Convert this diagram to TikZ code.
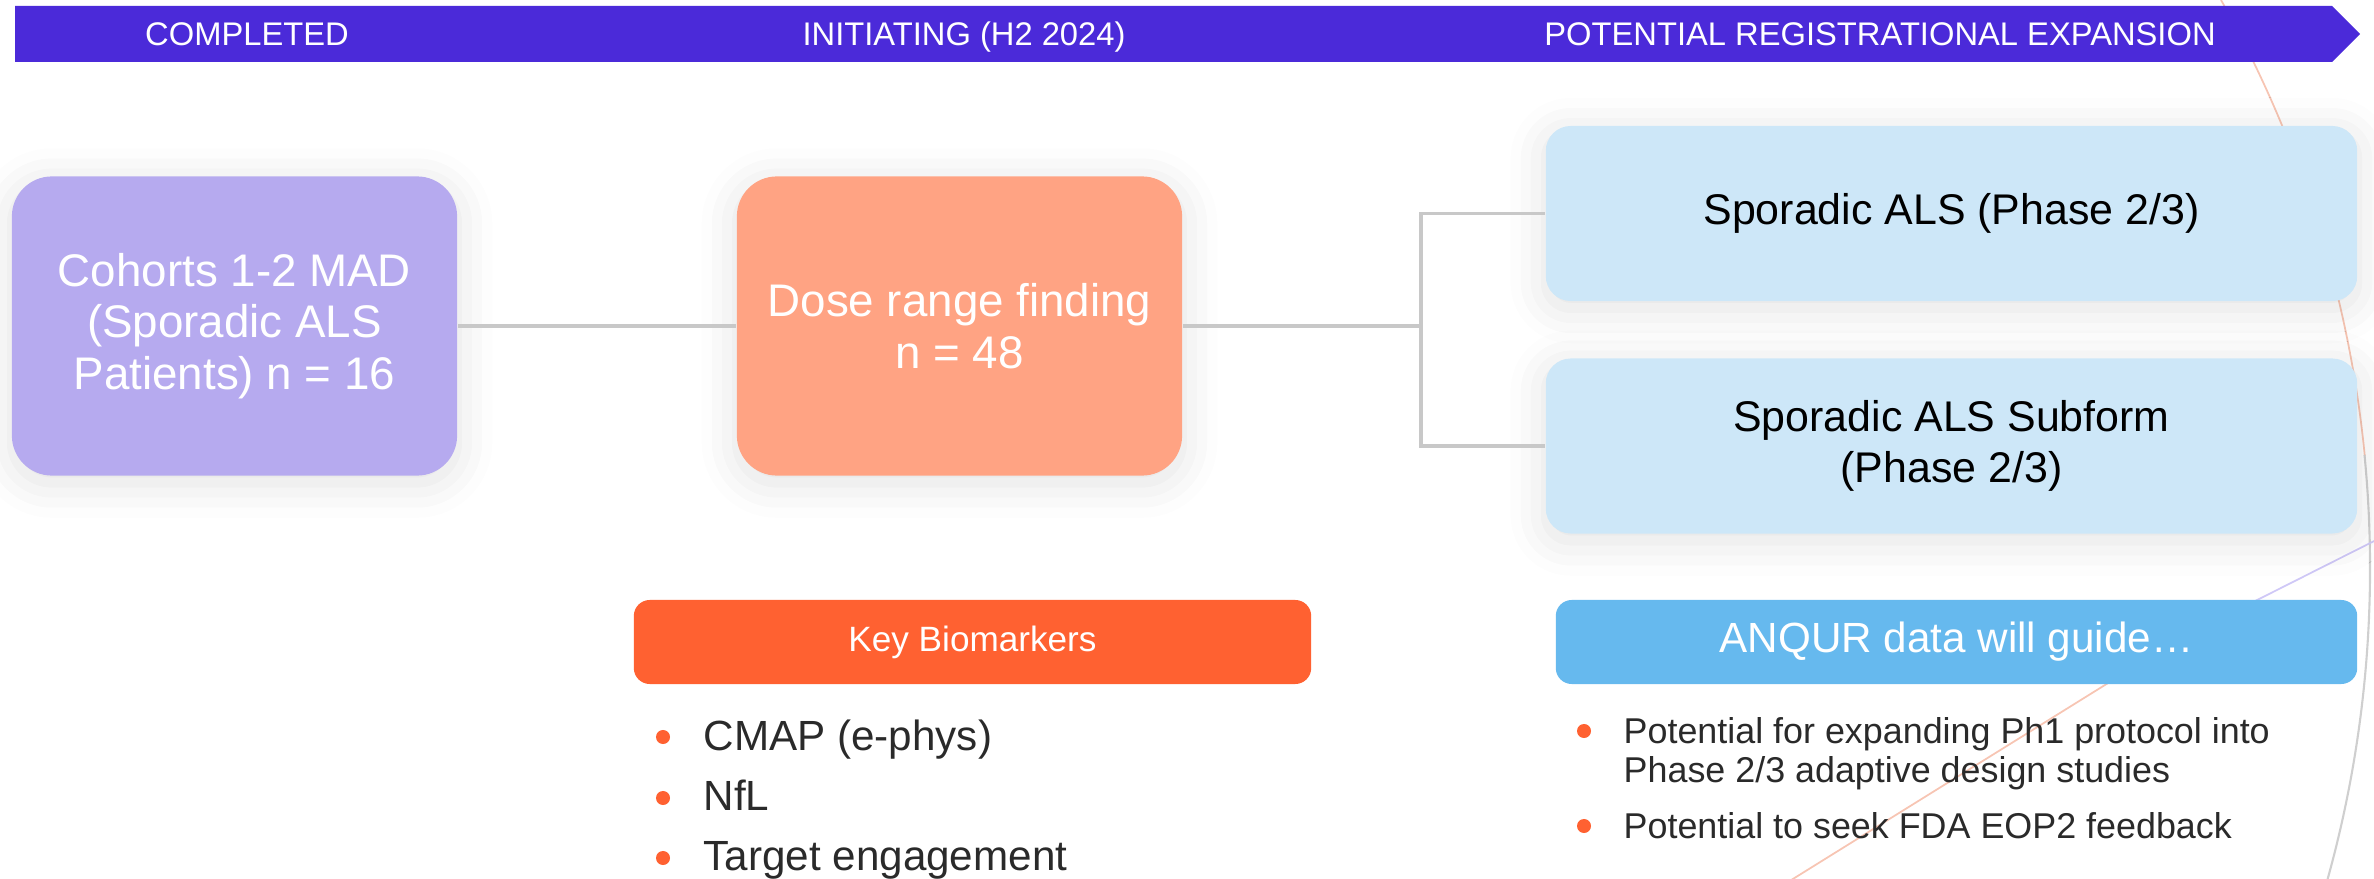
\documentclass[tikz,border=0pt]{standalone}
\usepackage{fontspec}
\setmainfont{Liberation Sans}
\usetikzlibrary{shadows.blur}

\definecolor{banner}{HTML}{4B2AD9}
\definecolor{cohort}{HTML}{B6AAEF}
\definecolor{salmon}{HTML}{FFA383}
\definecolor{paleblue}{HTML}{CDE7F8}
\definecolor{hotorange}{HTML}{FF6131}
\definecolor{skyblue}{HTML}{66B9EE}
\definecolor{ink}{HTML}{2A2A2A}
\definecolor{linkgray}{HTML}{C8C8C8}
\definecolor{peachline}{HTML}{F7C5B3}
\definecolor{grayline}{HTML}{CFCFCF}
\definecolor{lavline}{HTML}{CFC8F7}

\tikzset{
  softshadow/.style={blur shadow={shadow xshift=0pt, shadow yshift=-2pt, shadow blur radius=10pt, shadow opacity=12}},
  stage/.style={anchor=base, inner sep=0pt, text=white, font=\fontsize{9.3}{11}\selectfont},
  bigbox/.style={rounded corners=0.4cm, minimum width=4.45cm, minimum height=2.99cm, align=center,
    text=white, font=\fontsize{13}{14.6}\selectfont, softshadow},
  armbox/.style={rounded corners=0.25cm, fill=paleblue, minimum width=8.11cm, minimum height=1.75cm,
    align=center, text=black, font=\fontsize{12.2}{14.5}\selectfont, softshadow},
  headbox/.style={rounded corners=0.16cm, minimum height=0.84cm, text=white},
  dot/.style={circle, fill=hotorange, inner sep=0pt, minimum size=0.14cm},
  item/.style={anchor=base west, inner sep=0pt, text=ink},
  link/.style={draw=linkgray, line width=0.9pt}
}

\begin{document}
\begin{tikzpicture}[x=0.01cm, y=-0.01cm]
  \useasboundingbox (0,0) rectangle (2374,879);

  % faint background curves
  \draw[peachline, line width=0.5pt] (2221,0) arc[start angle=29.4, end angle=5.6, radius=11.59cm];
  \draw[grayline, line width=0.6pt] (2364.5,454.9) arc[start angle=5.6, end angle=-18, radius=11.59cm];
  \draw[lavline, line width=0.5pt] (2150,654) -- (2400,528);
  \draw[peachline, line width=0.5pt] (1780,887) -- (2150,657);

  % stage banner
  \fill[banner] (15,6) -- (2332,6) -- (2360,34) -- (2332,62) -- (15,62) -- cycle;
  \node[stage] (s1) at (247,46) {COMPLETED};
  \node[stage] (s2) at (964,46) {INITIATING (H2 2024)};
  \node[stage] (s3) at (1880,46) {POTENTIAL REGISTRATIONAL EXPANSION};

  % trial boxes
  \node[bigbox, fill=cohort] (coh) at (234.5,326) {Cohorts 1-2 MAD\\(Sporadic ALS\\Patients) n = 16};
  \node[bigbox, fill=salmon] (dose) at (959.5,326) {Dose range finding\\n = 48};
  \node[armbox] (spa) at (1951.5,213.5) {Sporadic ALS (Phase 2/3)};
  \node[armbox] (sub) at (1951.5,446) {Sporadic ALS Subform\\(Phase 2/3)};

  \coordinate (split) at (1421,326);
  \draw[link] (coh.east) -- (dose.west);
  \draw[link] (dose.east) -- (split);
  \draw[link] (split) |- (spa.west);
  \draw[link] (split) |- (sub.west);

  % biomarkers
  \node[headbox, fill=hotorange, minimum width=6.77cm, font=\fontsize{10}{12}\selectfont] (key) at (972.5,642) {Key Biomarkers};
  \node[dot] (k1) at (663,737) {};
  \node[dot] (k2) at (663,798) {};
  \node[dot] (k3) at (663,858) {};
  \node[item, font=\fontsize{12}{14}\selectfont] (m1) at (703,750) {CMAP (e-phys)};
  \node[item, font=\fontsize{12}{14}\selectfont] (m2) at (703,810) {NfL};
  \node[item, font=\fontsize{12}{14}\selectfont] (m3) at (703,870) {Target engagement};

  % what the data will guide
  \node[headbox, fill=skyblue, minimum width=8.01cm, font=\fontsize{12}{14}\selectfont] (anq) at (1956.5,642) {ANQUR data will guide…};
  \node[dot] (g1) at (1584,731) {};
  \node[dot] (g2) at (1584,826) {};
  \node[item, font=\fontsize{10.2}{11}\selectfont] (p1) at (1623,743) {Potential for expanding Ph1 protocol into};
  \node[item, font=\fontsize{10.2}{11}\selectfont] (p1b) at (1623,782) {Phase 2/3 adaptive design studies};
  \node[item, font=\fontsize{10.2}{11}\selectfont] (p2) at (1623,838) {Potential to seek FDA EOP2 feedback};
\end{tikzpicture}
\end{document}
